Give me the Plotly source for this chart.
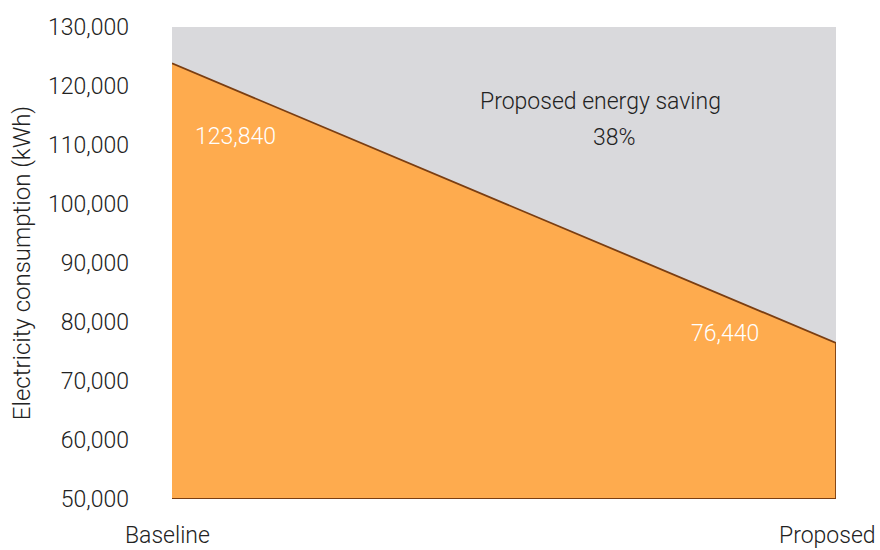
import plotly.graph_objects as go

categories = ["Baseline", "Proposed"]
consumption = [123840, 76440]
axis_floor = 50000
saving_pct = 38
y_ticks = [50000, 60000, 70000, 80000, 90000, 100000, 110000, 120000, 130000]

FONT = "Roboto"
xs = [0, 1]

fig = go.Figure()
fig.add_trace(go.Scatter(
    x=[xs[0], xs[1], xs[1], xs[0]],
    y=[consumption[0], consumption[1], axis_floor, axis_floor],
    mode="lines",
    fill="toself",
    fillcolor="#FEAB4E",
    line=dict(color="#7A3E12", width=1.8),
    hoverinfo="skip",
    showlegend=False,
))

# value labels
fig.add_annotation(x=0.095, y=111500, xref="x", yref="y",
                   text=f"{consumption[0]:,}", showarrow=False,
                   font=dict(family=FONT, size=23, color="white", weight=300))
fig.add_annotation(x=0.833, y=78100, xref="x", yref="y",
                   text=f"{consumption[1]:,}", showarrow=False,
                   font=dict(family=FONT, size=23, color="white", weight=300))
fig.add_annotation(x=0.645, y=117450, xref="x", yref="y",
                   text="Proposed energy saving", showarrow=False,
                   font=dict(family=FONT, size=23, color="#222222", weight=300))
fig.add_annotation(x=0.666, y=111350, xref="x", yref="y",
                   text=f"{saving_pct}%", showarrow=False,
                   font=dict(family=FONT, size=23, color="#222222", weight=300))

# category labels under the axis
for xv, label, shift in zip(xs, categories, [-5, -9]):
    fig.add_annotation(x=xv, y=-0.1075, xref="x", yref="paper", text=label,
                       showarrow=False, xshift=shift, yanchor="bottom",
                       borderpad=0,
                       font=dict(family=FONT, size=23, color="#222222", weight=300))

fig.update_layout(
    width=880, height=550,
    margin=dict(l=172, r=44, t=27, b=51),
    plot_bgcolor="#D9D9DC",
    paper_bgcolor="white",
    font=dict(family=FONT, size=23, color="#222222", weight=300),
    xaxis=dict(range=[0, 1], showticklabels=False,
               showgrid=False, zeroline=False, showline=False, automargin=False,
               ticks="", fixedrange=True),
    yaxis=dict(range=[50000, 130000], tickvals=y_ticks,
               ticktext=[f"{v:,}" for v in y_ticks],
               showgrid=False, zeroline=False, showline=False, automargin=False,
               ticks="", ticklabelstandoff=42,
               title=dict(text="Electricity consumption (kWh)", standoff=10,
                          font=dict(size=24))),
)

fig.write_html("out.html")
